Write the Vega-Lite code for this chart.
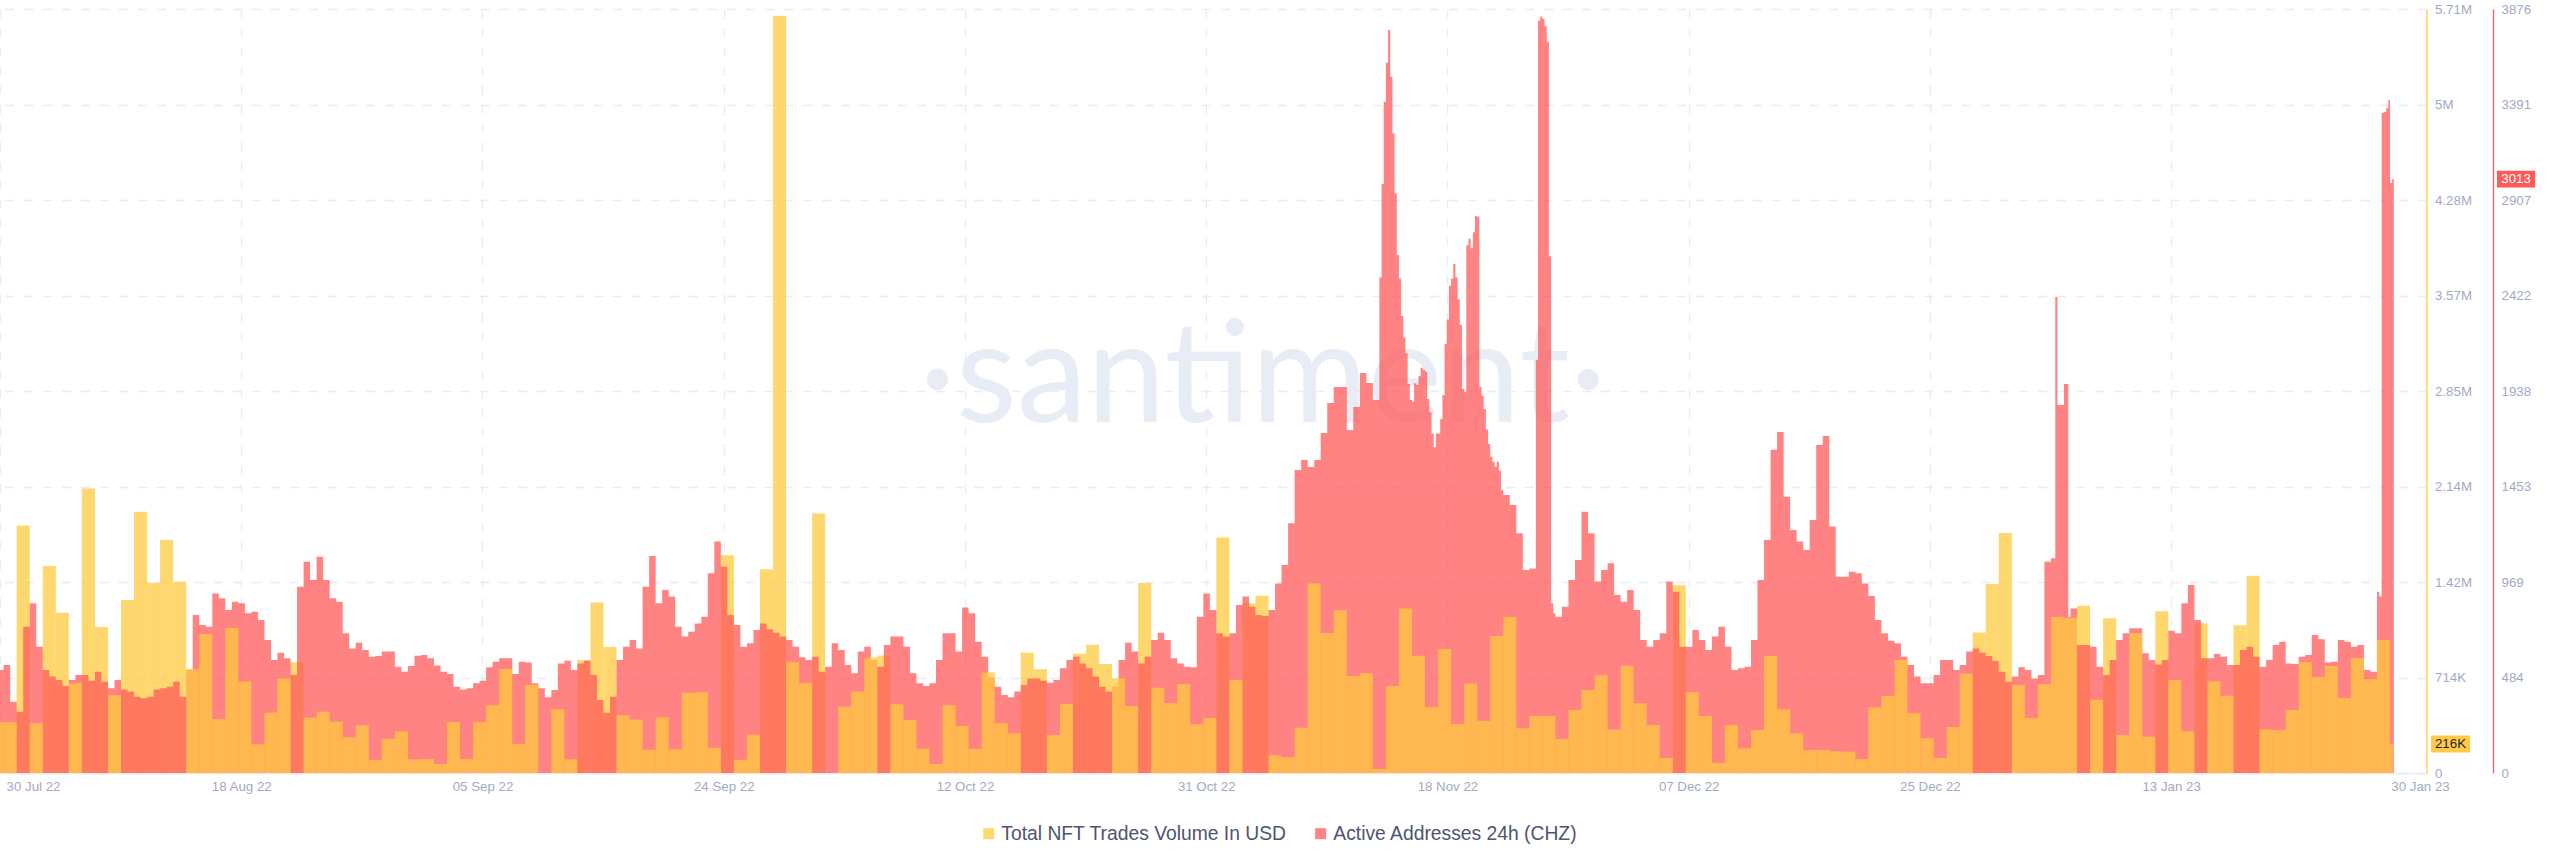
{"$schema":"https://vega.github.io/schema/vega-lite/v6.json","autosize":{"type":"none"},"width":2426.5,"height":764,"padding":{"left":0,"top":9,"right":133.5,"bottom":94},"background":"#ffffff","config":{"view":{"stroke":null},"font":"Liberation Sans"},
"datasets":{
"back":[
{"d":"2022-08-01T00:00","e":"2022-08-02T00:00","v":1850000},{"d":"2022-08-03T00:00","e":"2022-08-04T00:00","v":1547000},{"d":"2022-08-04T00:00","e":"2022-08-05T00:00","v":1198000},{"d":"2022-08-06T00:00","e":"2022-08-07T00:00","v":2127000},{"d":"2022-08-07T00:00","e":"2022-08-08T00:00","v":1091000},{"d":"2022-08-09T00:00","e":"2022-08-10T00:00","v":1293000},{"d":"2022-08-10T00:00","e":"2022-08-11T00:00","v":1953000},{"d":"2022-08-11T00:00","e":"2022-08-12T00:00","v":1422000},{"d":"2022-08-12T00:00","e":"2022-08-13T00:00","v":1741000},{"d":"2022-08-13T00:00","e":"2022-08-14T00:00","v":1430000},{"d":"2022-08-22T00:00","e":"2022-08-23T00:00","v":827000},{"d":"2022-09-13T00:00","e":"2022-09-14T00:00","v":844000},{"d":"2022-09-14T00:00","e":"2022-09-15T00:00","v":1275000},{"d":"2022-09-15T00:00","e":"2022-09-16T00:00","v":942000},{"d":"2022-09-24T00:00","e":"2022-09-25T00:00","v":1627000},{"d":"2022-09-27T00:00","e":"2022-09-28T00:00","v":1522000},{"d":"2022-09-28T00:00","e":"2022-09-29T00:00","v":5660000},{"d":"2022-10-01T00:00","e":"2022-10-02T00:00","v":1940000},{"d":"2022-10-06T00:00","e":"2022-10-07T00:00","v":879000},{"d":"2022-10-17T00:00","e":"2022-10-18T00:00","v":899000},{"d":"2022-10-18T00:00","e":"2022-10-19T00:00","v":775000},{"d":"2022-10-21T00:00","e":"2022-10-22T00:00","v":892000},{"d":"2022-10-22T00:00","e":"2022-10-23T00:00","v":959000},{"d":"2022-10-23T00:00","e":"2022-10-24T00:00","v":815000},{"d":"2022-10-26T00:00","e":"2022-10-27T00:00","v":1420000},{"d":"2022-11-01T00:00","e":"2022-11-02T00:00","v":1761000},{"d":"2022-11-03T00:00","e":"2022-11-04T00:00","v":1268000},{"d":"2022-11-04T00:00","e":"2022-11-05T00:00","v":1325000},{"d":"2022-12-06T00:00","e":"2022-12-07T00:00","v":1403000},{"d":"2022-12-29T00:00","e":"2022-12-30T00:00","v":1051000},{"d":"2022-12-30T00:00","e":"2022-12-31T00:00","v":1412000},{"d":"2022-12-31T00:00","e":"2023-01-01T00:00","v":1794000},{"d":"2023-01-06T00:00","e":"2023-01-07T00:00","v":1250000},{"d":"2023-01-08T00:00","e":"2023-01-09T00:00","v":1156000},{"d":"2023-01-12T00:00","e":"2023-01-13T00:00","v":1208000},{"d":"2023-01-15T00:00","e":"2023-01-16T00:00","v":1119000},{"d":"2023-01-18T00:00","e":"2023-01-19T00:00","v":1104000},{"d":"2023-01-19T00:00","e":"2023-01-20T00:00","v":1475000}],
"front":[
{"d":"2022-07-30T00:00","e":"2022-07-31T00:00","v":379000},{"d":"2022-07-31T00:00","e":"2022-08-01T00:00","v":379000},{"d":"2022-08-02T00:00","e":"2022-08-03T00:00","v":372000},{"d":"2022-08-05T00:00","e":"2022-08-06T00:00","v":670000},{"d":"2022-08-08T00:00","e":"2022-08-09T00:00","v":583000},{"d":"2022-08-14T00:00","e":"2022-08-15T00:00","v":777000},{"d":"2022-08-15T00:00","e":"2022-08-16T00:00","v":1039000},{"d":"2022-08-16T00:00","e":"2022-08-17T00:00","v":404000},{"d":"2022-08-17T00:00","e":"2022-08-18T00:00","v":1084000},{"d":"2022-08-18T00:00","e":"2022-08-19T00:00","v":683000},{"d":"2022-08-19T00:00","e":"2022-08-20T00:00","v":214000},{"d":"2022-08-20T00:00","e":"2022-08-21T00:00","v":451000},{"d":"2022-08-21T00:00","e":"2022-08-22T00:00","v":707000},{"d":"2022-08-23T00:00","e":"2022-08-24T00:00","v":414000},{"d":"2022-08-24T00:00","e":"2022-08-25T00:00","v":458000},{"d":"2022-08-25T00:00","e":"2022-08-26T00:00","v":384000},{"d":"2022-08-26T00:00","e":"2022-08-27T00:00","v":267000},{"d":"2022-08-27T00:00","e":"2022-08-28T00:00","v":356000},{"d":"2022-08-28T00:00","e":"2022-08-29T00:00","v":97000},{"d":"2022-08-29T00:00","e":"2022-08-30T00:00","v":254000},{"d":"2022-08-30T00:00","e":"2022-08-31T00:00","v":311000},{"d":"2022-08-31T00:00","e":"2022-09-01T00:00","v":102000},{"d":"2022-09-01T00:00","e":"2022-09-02T00:00","v":105000},{"d":"2022-09-02T00:00","e":"2022-09-03T00:00","v":67000},{"d":"2022-09-03T00:00","e":"2022-09-04T00:00","v":381000},{"d":"2022-09-04T00:00","e":"2022-09-05T00:00","v":105000},{"d":"2022-09-05T00:00","e":"2022-09-06T00:00","v":379000},{"d":"2022-09-06T00:00","e":"2022-09-07T00:00","v":506000},{"d":"2022-09-07T00:00","e":"2022-09-08T00:00","v":777000},{"d":"2022-09-08T00:00","e":"2022-09-09T00:00","v":217000},{"d":"2022-09-09T00:00","e":"2022-09-10T00:00","v":658000},{"d":"2022-09-10T00:00","e":"2022-09-11T00:00","v":0},{"d":"2022-09-11T00:00","e":"2022-09-12T00:00","v":476000},{"d":"2022-09-12T00:00","e":"2022-09-13T00:00","v":102000},{"d":"2022-09-16T00:00","e":"2022-09-17T00:00","v":431000},{"d":"2022-09-17T00:00","e":"2022-09-18T00:00","v":399000},{"d":"2022-09-18T00:00","e":"2022-09-19T00:00","v":174000},{"d":"2022-09-19T00:00","e":"2022-09-20T00:00","v":416000},{"d":"2022-09-20T00:00","e":"2022-09-21T00:00","v":177000},{"d":"2022-09-21T00:00","e":"2022-09-22T00:00","v":600000},{"d":"2022-09-22T00:00","e":"2022-09-23T00:00","v":605000},{"d":"2022-09-23T00:00","e":"2022-09-24T00:00","v":189000},{"d":"2022-09-25T00:00","e":"2022-09-26T00:00","v":97000},{"d":"2022-09-26T00:00","e":"2022-09-27T00:00","v":286000},{"d":"2022-09-29T00:00","e":"2022-09-30T00:00","v":827000},{"d":"2022-09-30T00:00","e":"2022-10-01T00:00","v":673000},{"d":"2022-10-02T00:00","e":"2022-10-03T00:00","v":0},{"d":"2022-10-03T00:00","e":"2022-10-04T00:00","v":496000},{"d":"2022-10-04T00:00","e":"2022-10-05T00:00","v":610000},{"d":"2022-10-05T00:00","e":"2022-10-06T00:00","v":864000},{"d":"2022-10-07T00:00","e":"2022-10-08T00:00","v":513000},{"d":"2022-10-08T00:00","e":"2022-10-09T00:00","v":396000},{"d":"2022-10-09T00:00","e":"2022-10-10T00:00","v":182000},{"d":"2022-10-10T00:00","e":"2022-10-11T00:00","v":67000},{"d":"2022-10-11T00:00","e":"2022-10-12T00:00","v":506000},{"d":"2022-10-12T00:00","e":"2022-10-13T00:00","v":351000},{"d":"2022-10-13T00:00","e":"2022-10-14T00:00","v":179000},{"d":"2022-10-14T00:00","e":"2022-10-15T00:00","v":752000},{"d":"2022-10-15T00:00","e":"2022-10-16T00:00","v":374000},{"d":"2022-10-16T00:00","e":"2022-10-17T00:00","v":296000},{"d":"2022-10-19T00:00","e":"2022-10-20T00:00","v":284000},{"d":"2022-10-20T00:00","e":"2022-10-21T00:00","v":516000},{"d":"2022-10-24T00:00","e":"2022-10-25T00:00","v":707000},{"d":"2022-10-25T00:00","e":"2022-10-26T00:00","v":501000},{"d":"2022-10-27T00:00","e":"2022-10-28T00:00","v":638000},{"d":"2022-10-28T00:00","e":"2022-10-29T00:00","v":523000},{"d":"2022-10-29T00:00","e":"2022-10-30T00:00","v":663000},{"d":"2022-10-30T00:00","e":"2022-10-31T00:00","v":364000},{"d":"2022-10-31T00:00","e":"2022-11-01T00:00","v":411000},{"d":"2022-11-02T00:00","e":"2022-11-03T00:00","v":695000},{"d":"2022-11-05T00:00","e":"2022-11-06T00:00","v":132000},{"d":"2022-11-06T00:00","e":"2022-11-07T00:00","v":117000},{"d":"2022-11-07T00:00","e":"2022-11-08T00:00","v":339000},{"d":"2022-11-08T00:00","e":"2022-11-09T00:00","v":1417000},{"d":"2022-11-09T00:00","e":"2022-11-10T00:00","v":1046000},{"d":"2022-11-10T00:00","e":"2022-11-11T00:00","v":1216000},{"d":"2022-11-11T00:00","e":"2022-11-12T00:00","v":725000},{"d":"2022-11-12T00:00","e":"2022-11-13T00:00","v":745000},{"d":"2022-11-13T00:00","e":"2022-11-14T00:00","v":30000},{"d":"2022-11-14T00:00","e":"2022-11-15T00:00","v":650000},{"d":"2022-11-15T00:00","e":"2022-11-16T00:00","v":1230000},{"d":"2022-11-16T00:00","e":"2022-11-17T00:00","v":877000},{"d":"2022-11-17T00:00","e":"2022-11-18T00:00","v":493000},{"d":"2022-11-18T00:00","e":"2022-11-19T00:00","v":927000},{"d":"2022-11-19T00:00","e":"2022-11-20T00:00","v":366000},{"d":"2022-11-20T00:00","e":"2022-11-21T00:00","v":668000},{"d":"2022-11-21T00:00","e":"2022-11-22T00:00","v":389000},{"d":"2022-11-22T00:00","e":"2022-11-23T00:00","v":1024000},{"d":"2022-11-23T00:00","e":"2022-11-24T00:00","v":1166000},{"d":"2022-11-24T00:00","e":"2022-11-25T00:00","v":334000},{"d":"2022-11-25T00:00","e":"2022-11-26T00:00","v":426000},{"d":"2022-11-26T00:00","e":"2022-11-27T00:00","v":426000},{"d":"2022-11-27T00:00","e":"2022-11-28T00:00","v":254000},{"d":"2022-11-28T00:00","e":"2022-11-29T00:00","v":471000},{"d":"2022-11-29T00:00","e":"2022-11-30T00:00","v":620000},{"d":"2022-11-30T00:00","e":"2022-12-01T00:00","v":730000},{"d":"2022-12-01T00:00","e":"2022-12-02T00:00","v":326000},{"d":"2022-12-02T00:00","e":"2022-12-03T00:00","v":802000},{"d":"2022-12-03T00:00","e":"2022-12-04T00:00","v":521000},{"d":"2022-12-04T00:00","e":"2022-12-05T00:00","v":359000},{"d":"2022-12-05T00:00","e":"2022-12-06T00:00","v":112000},{"d":"2022-12-07T00:00","e":"2022-12-08T00:00","v":603000},{"d":"2022-12-08T00:00","e":"2022-12-09T00:00","v":426000},{"d":"2022-12-09T00:00","e":"2022-12-10T00:00","v":75000},{"d":"2022-12-10T00:00","e":"2022-12-11T00:00","v":359000},{"d":"2022-12-11T00:00","e":"2022-12-12T00:00","v":184000},{"d":"2022-12-12T00:00","e":"2022-12-13T00:00","v":321000},{"d":"2022-12-13T00:00","e":"2022-12-14T00:00","v":874000},{"d":"2022-12-14T00:00","e":"2022-12-15T00:00","v":476000},{"d":"2022-12-15T00:00","e":"2022-12-16T00:00","v":296000},{"d":"2022-12-16T00:00","e":"2022-12-17T00:00","v":172000},{"d":"2022-12-17T00:00","e":"2022-12-18T00:00","v":172000},{"d":"2022-12-18T00:00","e":"2022-12-19T00:00","v":162000},{"d":"2022-12-19T00:00","e":"2022-12-20T00:00","v":159000},{"d":"2022-12-20T00:00","e":"2022-12-21T00:00","v":105000},{"d":"2022-12-21T00:00","e":"2022-12-22T00:00","v":491000},{"d":"2022-12-22T00:00","e":"2022-12-23T00:00","v":575000},{"d":"2022-12-23T00:00","e":"2022-12-24T00:00","v":844000},{"d":"2022-12-24T00:00","e":"2022-12-25T00:00","v":446000},{"d":"2022-12-25T00:00","e":"2022-12-26T00:00","v":259000},{"d":"2022-12-26T00:00","e":"2022-12-27T00:00","v":112000},{"d":"2022-12-27T00:00","e":"2022-12-28T00:00","v":344000},{"d":"2022-12-28T00:00","e":"2022-12-29T00:00","v":742000},{"d":"2023-01-01T00:00","e":"2023-01-02T00:00","v":658000},{"d":"2023-01-02T00:00","e":"2023-01-03T00:00","v":411000},{"d":"2023-01-03T00:00","e":"2023-01-04T00:00","v":663000},{"d":"2023-01-04T00:00","e":"2023-01-05T00:00","v":1166000},{"d":"2023-01-05T00:00","e":"2023-01-06T00:00","v":1161000},{"d":"2023-01-07T00:00","e":"2023-01-08T00:00","v":548000},{"d":"2023-01-09T00:00","e":"2023-01-10T00:00","v":284000},{"d":"2023-01-10T00:00","e":"2023-01-11T00:00","v":1046000},{"d":"2023-01-11T00:00","e":"2023-01-12T00:00","v":272000},{"d":"2023-01-13T00:00","e":"2023-01-14T00:00","v":695000},{"d":"2023-01-14T00:00","e":"2023-01-15T00:00","v":311000},{"d":"2023-01-16T00:00","e":"2023-01-17T00:00","v":685000},{"d":"2023-01-17T00:00","e":"2023-01-18T00:00","v":578000},{"d":"2023-01-20T00:00","e":"2023-01-21T00:00","v":326000},{"d":"2023-01-21T00:00","e":"2023-01-22T00:00","v":321000},{"d":"2023-01-22T00:00","e":"2023-01-23T00:00","v":471000},{"d":"2023-01-23T00:00","e":"2023-01-24T00:00","v":830000},{"d":"2023-01-24T00:00","e":"2023-01-25T00:00","v":717000},{"d":"2023-01-25T00:00","e":"2023-01-26T00:00","v":800000},{"d":"2023-01-26T00:00","e":"2023-01-27T00:00","v":560000},{"d":"2023-01-27T00:00","e":"2023-01-28T00:00","v":859000},{"d":"2023-01-28T00:00","e":"2023-01-29T00:00","v":702000},{"d":"2023-01-29T00:00","e":"2023-01-30T00:00","v":994000},{"d":"2023-01-30T00:00","e":"2023-01-30T05:16","v":216000}],
"active":[
{"t":"2022-07-30T12:00","a":523},{"t":"2022-07-31T00:00","a":548},{"t":"2022-07-31T12:00","a":362},{"t":"2022-08-01T00:00","a":311},{"t":"2022-08-01T12:00","a":742},{"t":"2022-08-02T00:00","a":861},{"t":"2022-08-02T12:00","a":641},{"t":"2022-08-03T00:00","a":523},{"t":"2022-08-03T12:00","a":489},{"t":"2022-08-04T00:00","a":472},{"t":"2022-08-04T12:00","a":441},{"t":"2022-08-05T00:00","a":472},{"t":"2022-08-05T12:00","a":497},{"t":"2022-08-06T00:00","a":497},{"t":"2022-08-06T12:00","a":468},{"t":"2022-08-07T00:00","a":514},{"t":"2022-08-07T12:00","a":463},{"t":"2022-08-08T00:00","a":430},{"t":"2022-08-08T12:00","a":472},{"t":"2022-08-09T00:00","a":424},{"t":"2022-08-09T12:00","a":413},{"t":"2022-08-10T00:00","a":387},{"t":"2022-08-10T12:00","a":379},{"t":"2022-08-11T00:00","a":387},{"t":"2022-08-11T12:00","a":424},{"t":"2022-08-12T00:00","a":430},{"t":"2022-08-12T12:00","a":438},{"t":"2022-08-13T00:00","a":463},{"t":"2022-08-13T12:00","a":387},{"t":"2022-08-14T00:00","a":523},{"t":"2022-08-14T12:00","a":802},{"t":"2022-08-15T00:00","a":751},{"t":"2022-08-15T12:00","a":742},{"t":"2022-08-16T00:00","a":911},{"t":"2022-08-16T12:00","a":886},{"t":"2022-08-17T00:00","a":827},{"t":"2022-08-17T12:00","a":869},{"t":"2022-08-18T00:00","a":861},{"t":"2022-08-18T12:00","a":810},{"t":"2022-08-19T00:00","a":818},{"t":"2022-08-19T12:00","a":776},{"t":"2022-08-20T00:00","a":675},{"t":"2022-08-20T12:00","a":573},{"t":"2022-08-21T00:00","a":610},{"t":"2022-08-21T12:00","a":582},{"t":"2022-08-22T00:00","a":497},{"t":"2022-08-22T12:00","a":945},{"t":"2022-08-23T00:00","a":1072},{"t":"2022-08-23T12:00","a":979},{"t":"2022-08-24T00:00","a":1097},{"t":"2022-08-24T12:00","a":979},{"t":"2022-08-25T00:00","a":886},{"t":"2022-08-25T12:00","a":869},{"t":"2022-08-26T00:00","a":709},{"t":"2022-08-26T12:00","a":632},{"t":"2022-08-27T00:00","a":661},{"t":"2022-08-27T12:00","a":624},{"t":"2022-08-28T00:00","a":590},{"t":"2022-08-28T12:00","a":594},{"t":"2022-08-29T00:00","a":616},{"t":"2022-08-29T12:00","a":616},{"t":"2022-08-30T00:00","a":539},{"t":"2022-08-30T12:00","a":514},{"t":"2022-08-31T00:00","a":543},{"t":"2022-08-31T12:00","a":595},{"t":"2022-09-01T00:00","a":599},{"t":"2022-09-01T12:00","a":582},{"t":"2022-09-02T00:00","a":545},{"t":"2022-09-02T12:00","a":514},{"t":"2022-09-03T00:00","a":502},{"t":"2022-09-03T12:00","a":438},{"t":"2022-09-04T00:00","a":424},{"t":"2022-09-04T12:00","a":430},{"t":"2022-09-05T00:00","a":455},
{"t":"2022-09-05T12:00","a":468},{"t":"2022-09-06T00:00","a":536},{"t":"2022-09-06T12:00","a":565},{"t":"2022-09-07T00:00","a":582},{"t":"2022-09-07T12:00","a":582},{"t":"2022-09-08T00:00","a":502},{"t":"2022-09-08T12:00","a":565},{"t":"2022-09-09T00:00","a":560},{"t":"2022-09-09T12:00","a":455},{"t":"2022-09-10T00:00","a":430},{"t":"2022-09-10T12:00","a":384},{"t":"2022-09-11T00:00","a":421},{"t":"2022-09-11T12:00","a":556},{"t":"2022-09-12T00:00","a":570},{"t":"2022-09-12T12:00","a":523},{"t":"2022-09-13T00:00","a":556},{"t":"2022-09-13T12:00","a":570},{"t":"2022-09-14T00:00","a":497},{"t":"2022-09-14T12:00","a":370},{"t":"2022-09-15T00:00","a":306},{"t":"2022-09-15T12:00","a":387},{"t":"2022-09-16T00:00","a":573},{"t":"2022-09-16T12:00","a":641},{"t":"2022-09-17T00:00","a":675},{"t":"2022-09-17T12:00","a":632},{"t":"2022-09-18T00:00","a":945},{"t":"2022-09-18T12:00","a":1101},{"t":"2022-09-19T00:00","a":861},{"t":"2022-09-19T12:00","a":928},{"t":"2022-09-20T00:00","a":895},{"t":"2022-09-20T12:00","a":742},{"t":"2022-09-21T00:00","a":692},{"t":"2022-09-21T12:00","a":717},{"t":"2022-09-22T00:00","a":759},{"t":"2022-09-22T12:00","a":793},{"t":"2022-09-23T00:00","a":1013},{"t":"2022-09-23T12:00","a":1174},{"t":"2022-09-24T00:00","a":1047},{"t":"2022-09-24T12:00","a":802},{"t":"2022-09-25T00:00","a":751},{"t":"2022-09-25T12:00","a":641},{"t":"2022-09-26T00:00","a":658},{"t":"2022-09-26T12:00","a":725},{"t":"2022-09-27T00:00","a":759},{"t":"2022-09-27T12:00","a":729},{"t":"2022-09-28T00:00","a":712},{"t":"2022-09-28T12:00","a":692},{"t":"2022-09-29T00:00","a":675},{"t":"2022-09-29T12:00","a":641},{"t":"2022-09-30T00:00","a":587},{"t":"2022-09-30T12:00","a":573},{"t":"2022-10-01T00:00","a":590},{"t":"2022-10-01T12:00","a":514},{"t":"2022-10-02T00:00","a":539},{"t":"2022-10-02T12:00","a":658},{"t":"2022-10-03T00:00","a":624},{"t":"2022-10-03T12:00","a":548},{"t":"2022-10-04T00:00","a":506},{"t":"2022-10-04T12:00","a":616},{"t":"2022-10-05T00:00","a":641},{"t":"2022-10-05T12:00","a":573},{"t":"2022-10-06T00:00","a":539},{"t":"2022-10-06T12:00","a":649},{"t":"2022-10-07T00:00","a":692},{"t":"2022-10-07T12:00","a":692},{"t":"2022-10-08T00:00","a":641},{"t":"2022-10-08T12:00","a":506},{"t":"2022-10-09T00:00","a":455},{"t":"2022-10-09T12:00","a":441},{"t":"2022-10-10T00:00","a":455},{"t":"2022-10-10T12:00","a":573},{"t":"2022-10-11T00:00","a":709},{"t":"2022-10-11T12:00","a":709},{"t":"2022-10-12T00:00","a":616},
{"t":"2022-10-12T12:00","a":840},{"t":"2022-10-13T00:00","a":810},{"t":"2022-10-13T12:00","a":666},{"t":"2022-10-14T00:00","a":590},{"t":"2022-10-14T12:00","a":485},{"t":"2022-10-15T00:00","a":438},{"t":"2022-10-15T12:00","a":396},{"t":"2022-10-16T00:00","a":384},{"t":"2022-10-16T12:00","a":413},{"t":"2022-10-17T00:00","a":446},{"t":"2022-10-17T12:00","a":480},{"t":"2022-10-18T00:00","a":480},{"t":"2022-10-18T12:00","a":468},{"t":"2022-10-19T00:00","a":458},{"t":"2022-10-19T12:00","a":472},{"t":"2022-10-20T00:00","a":531},{"t":"2022-10-20T12:00","a":573},{"t":"2022-10-21T00:00","a":590},{"t":"2022-10-21T12:00","a":556},{"t":"2022-10-22T00:00","a":531},{"t":"2022-10-22T12:00","a":489},{"t":"2022-10-23T00:00","a":438},{"t":"2022-10-23T12:00","a":413},{"t":"2022-10-24T00:00","a":438},{"t":"2022-10-24T12:00","a":573},{"t":"2022-10-25T00:00","a":661},{"t":"2022-10-25T12:00","a":616},{"t":"2022-10-26T00:00","a":556},{"t":"2022-10-26T12:00","a":590},{"t":"2022-10-27T00:00","a":675},{"t":"2022-10-27T12:00","a":712},{"t":"2022-10-28T00:00","a":675},{"t":"2022-10-28T12:00","a":582},{"t":"2022-10-29T00:00","a":556},{"t":"2022-10-29T12:00","a":539},{"t":"2022-10-30T00:00","a":536},{"t":"2022-10-30T12:00","a":793},{"t":"2022-10-31T00:00","a":911},{"t":"2022-10-31T12:00","a":827},{"t":"2022-11-01T00:00","a":709},{"t":"2022-11-01T12:00","a":692},{"t":"2022-11-02T00:00","a":709},{"t":"2022-11-02T12:00","a":852},{"t":"2022-11-03T00:00","a":895},{"t":"2022-11-03T12:00","a":844},{"t":"2022-11-04T00:00","a":802},{"t":"2022-11-04T12:00","a":796},{"t":"2022-11-05T00:00","a":827},{"t":"2022-11-05T12:00","a":962},{"t":"2022-11-06T00:00","a":1055},{"t":"2022-11-06T12:00","a":1267},
{"t":"2022-11-07T00:00","a":1537},{"t":"2022-11-07T12:00","a":1588},{"t":"2022-11-08T00:00","a":1552},{"t":"2022-11-08T12:00","a":1588},{"t":"2022-11-09T00:00","a":1725},{"t":"2022-11-09T12:00","a":1877},{"t":"2022-11-10T00:00","a":1958},{"t":"2022-11-10T12:00","a":1958},{"t":"2022-11-11T00:00","a":1740},{"t":"2022-11-11T12:00","a":1857},{"t":"2022-11-12T00:00","a":2029},{"t":"2022-11-12T12:00","a":1979},{"t":"2022-11-13T00:00","a":1892},
{"t":"2022-11-13T12:00","a":2514},{"t":"2022-11-13T16:00","a":2988},{"t":"2022-11-13T20:00","a":3406},{"t":"2022-11-14T00:00","a":3603},{"t":"2022-11-14T04:00","a":3769},{"t":"2022-11-14T08:00","a":3532},{"t":"2022-11-14T12:00","a":3245},{"t":"2022-11-14T16:00","a":2941},{"t":"2022-11-14T20:00","a":2628},{"t":"2022-11-15T00:00","a":2509},{"t":"2022-11-15T04:00","a":2318},{"t":"2022-11-15T08:00","a":2210},{"t":"2022-11-15T12:00","a":2129},{"t":"2022-11-15T16:00","a":1973},{"t":"2022-11-15T20:00","a":1892},{"t":"2022-11-16T00:00","a":1884},{"t":"2022-11-16T04:00","a":1977},{"t":"2022-11-16T08:00","a":1968},{"t":"2022-11-16T12:00","a":2014},{"t":"2022-11-16T16:00","a":2056},{"t":"2022-11-16T20:00","a":2044},{"t":"2022-11-17T00:00","a":2036},{"t":"2022-11-17T04:00","a":1897},{"t":"2022-11-17T08:00","a":1830},{"t":"2022-11-17T12:00","a":1723},{"t":"2022-11-17T16:00","a":1652},{"t":"2022-11-17T20:00","a":1723},{"t":"2022-11-18T00:00","a":1723},{"t":"2022-11-18T04:00","a":1796},{"t":"2022-11-18T08:00","a":1918},{"t":"2022-11-18T12:00","a":2176},{"t":"2022-11-18T16:00","a":2301},{"t":"2022-11-18T20:00","a":2472},{"t":"2022-11-19T00:00","a":2509},{"t":"2022-11-19T04:00","a":2582},{"t":"2022-11-19T08:00","a":2514},{"t":"2022-11-19T12:00","a":2403},{"t":"2022-11-19T16:00","a":2273},{"t":"2022-11-19T20:00","a":1948},{"t":"2022-11-20T00:00","a":1934},{"t":"2022-11-20T04:00","a":2678},{"t":"2022-11-20T08:00","a":2711},{"t":"2022-11-20T12:00","a":2662},{"t":"2022-11-20T16:00","a":2743},{"t":"2022-11-20T20:00","a":2826},{"t":"2022-11-21T00:00","a":2822},{"t":"2022-11-21T04:00","a":1960},{"t":"2022-11-21T08:00","a":1914},{"t":"2022-11-21T12:00","a":1847},{"t":"2022-11-21T16:00","a":1743},{"t":"2022-11-21T20:00","a":1669},{"t":"2022-11-22T00:00","a":1605},{"t":"2022-11-22T04:00","a":1579},{"t":"2022-11-22T08:00","a":1554},{"t":"2022-11-22T12:00","a":1579},{"t":"2022-11-22T16:00","a":1534},
{"t":"2022-11-22T20:00","a":1436},{"t":"2022-11-23T00:00","a":1410},{"t":"2022-11-23T12:00","a":1360},{"t":"2022-11-24T00:00","a":1216},{"t":"2022-11-24T12:00","a":1030},{"t":"2022-11-25T00:00","a":1038},{"t":"2022-11-25T12:00","a":2095},{"t":"2022-11-25T16:00","a":3816},{"t":"2022-11-25T20:00","a":3837},{"t":"2022-11-26T00:00","a":3825},{"t":"2022-11-26T04:00","a":3789},{"t":"2022-11-26T08:00","a":3710},{"t":"2022-11-26T12:00","a":2622},{"t":"2022-11-26T16:00","a":861},{"t":"2022-11-26T20:00","a":810},{"t":"2022-11-27T00:00","a":793},{"t":"2022-11-27T12:00","a":844},{"t":"2022-11-28T00:00","a":979},{"t":"2022-11-28T12:00","a":1080},{"t":"2022-11-29T00:00","a":1326},{"t":"2022-11-29T12:00","a":1216},{"t":"2022-11-30T00:00","a":971},{"t":"2022-11-30T12:00","a":1030},{"t":"2022-12-01T00:00","a":1064},{"t":"2022-12-01T12:00","a":903},{"t":"2022-12-02T00:00","a":869},{"t":"2022-12-02T12:00","a":928},{"t":"2022-12-03T00:00","a":827},{"t":"2022-12-03T12:00","a":675},{"t":"2022-12-04T00:00","a":641},{"t":"2022-12-04T12:00","a":675},{"t":"2022-12-05T00:00","a":709},{"t":"2022-12-05T12:00","a":971},{"t":"2022-12-06T00:00","a":920},{"t":"2022-12-06T12:00","a":641},{"t":"2022-12-07T00:00","a":641},{"t":"2022-12-07T12:00","a":725},{"t":"2022-12-08T00:00","a":675},{"t":"2022-12-08T12:00","a":624},{"t":"2022-12-09T00:00","a":692},{"t":"2022-12-09T12:00","a":742},{"t":"2022-12-10T00:00","a":641},{"t":"2022-12-10T12:00","a":523},{"t":"2022-12-11T00:00","a":531},{"t":"2022-12-11T12:00","a":539},{"t":"2022-12-12T00:00","a":675},{"t":"2022-12-12T12:00","a":979},{"t":"2022-12-13T00:00","a":1182},{"t":"2022-12-13T12:00","a":1640},{"t":"2022-12-14T00:00","a":1730},{"t":"2022-12-14T12:00","a":1402},{"t":"2022-12-15T00:00","a":1233},{"t":"2022-12-15T12:00","a":1174},{"t":"2022-12-16T00:00","a":1131},{"t":"2022-12-16T12:00","a":1283},{"t":"2022-12-17T00:00","a":1664},{"t":"2022-12-17T12:00","a":1710},{"t":"2022-12-18T00:00","a":1250},{"t":"2022-12-18T12:00","a":996},{"t":"2022-12-19T00:00","a":996},{"t":"2022-12-19T12:00","a":1021},{"t":"2022-12-20T00:00","a":1013},{"t":"2022-12-20T12:00","a":962},{"t":"2022-12-21T00:00","a":898},{"t":"2022-12-21T12:00","a":776},{"t":"2022-12-22T00:00","a":709},{"t":"2022-12-22T12:00","a":671},{"t":"2022-12-23T00:00","a":658},{"t":"2022-12-23T12:00","a":590},{"t":"2022-12-24T00:00","a":548},{"t":"2022-12-24T12:00","a":489},
{"t":"2022-12-25T00:00","a":455},{"t":"2022-12-25T12:00","a":455},{"t":"2022-12-26T00:00","a":497},{"t":"2022-12-26T12:00","a":573},{"t":"2022-12-27T00:00","a":573},{"t":"2022-12-27T12:00","a":523},{"t":"2022-12-28T00:00","a":548},{"t":"2022-12-28T12:00","a":616},{"t":"2022-12-29T00:00","a":632},{"t":"2022-12-29T12:00","a":610},{"t":"2022-12-30T00:00","a":594},{"t":"2022-12-30T12:00","a":570},{"t":"2022-12-31T00:00","a":514},{"t":"2022-12-31T12:00","a":463},{"t":"2023-01-01T00:00","a":489},{"t":"2023-01-01T12:00","a":536},{"t":"2023-01-02T00:00","a":523},{"t":"2023-01-02T12:00","a":480},{"t":"2023-01-03T00:00","a":497},{"t":"2023-01-03T12:00","a":1072},{"t":"2023-01-04T00:00","a":1089},{"t":"2023-01-04T08:00","a":2415},{"t":"2023-01-04T12:00","a":1867},{"t":"2023-01-05T00:00","a":1973},{"t":"2023-01-05T08:00","a":793},{"t":"2023-01-05T12:00","a":835},{"t":"2023-01-06T00:00","a":649},{"t":"2023-01-06T12:00","a":649},{"t":"2023-01-07T00:00","a":641},{"t":"2023-01-07T12:00","a":539},{"t":"2023-01-08T00:00","a":497},{"t":"2023-01-08T12:00","a":573},{"t":"2023-01-09T00:00","a":675},{"t":"2023-01-09T12:00","a":709},{"t":"2023-01-10T00:00","a":734},{"t":"2023-01-10T12:00","a":734},{"t":"2023-01-11T00:00","a":607},{"t":"2023-01-11T12:00","a":573},{"t":"2023-01-12T00:00","a":551},{"t":"2023-01-12T12:00","a":573},{"t":"2023-01-13T00:00","a":722},{"t":"2023-01-13T12:00","a":709},{"t":"2023-01-14T00:00","a":861},{"t":"2023-01-14T12:00","a":954},{"t":"2023-01-15T00:00","a":776},{"t":"2023-01-15T12:00","a":582},{"t":"2023-01-16T00:00","a":582},{"t":"2023-01-16T12:00","a":604},{"t":"2023-01-17T00:00","a":590},{"t":"2023-01-17T12:00","a":548},{"t":"2023-01-18T00:00","a":548},{"t":"2023-01-18T12:00","a":624},{"t":"2023-01-19T00:00","a":641},{"t":"2023-01-19T12:00","a":590},{"t":"2023-01-20T00:00","a":539},{"t":"2023-01-20T12:00","a":573},{"t":"2023-01-21T00:00","a":649},{"t":"2023-01-21T12:00","a":666},{"t":"2023-01-22T00:00","a":556},{"t":"2023-01-22T12:00","a":553},{"t":"2023-01-23T00:00","a":590},{"t":"2023-01-23T12:00","a":599},{"t":"2023-01-24T00:00","a":700},{"t":"2023-01-24T12:00","a":678},{"t":"2023-01-25T00:00","a":560},{"t":"2023-01-25T12:00","a":565},{"t":"2023-01-26T00:00","a":675},{"t":"2023-01-26T12:00","a":666},{"t":"2023-01-27T00:00","a":641},{"t":"2023-01-27T12:00","a":649},{"t":"2023-01-28T00:00","a":523},{"t":"2023-01-28T12:00","a":514},{"t":"2023-01-29T00:00","a":920},{"t":"2023-01-29T04:00","a":895},{"t":"2023-01-29T08:40","a":3348},{"t":"2023-01-29T13:00","a":3353},{"t":"2023-01-29T17:00","a":3374},{"t":"2023-01-29T21:00","a":3414},{"t":"2023-01-30T00:00","a":2993},{"t":"2023-01-30T04:00","a":3013},{"t":"2023-01-30T07:00","a":3013}]
},
"layer":[
{"data":{"values":[{"t":"2022-11-04T13:40","a":1781,"label":"·santiment·"}]},
 "mark":{"type":"text","font":"Lato","fontSize":141,"baseline":"alphabetic","align":"center","color":"#e8ecf5"},
 "encoding":{"x":{"field":"t","type":"temporal","scale":{"nice":false,"domain":[{"year":2022,"month":"jul","date":30,"hours":17,"minutes":17},{"year":2023,"month":"feb","date":1,"hours":19,"minutes":12}]},"title":null,
   "axis":{"title":null,"grid":true,"gridColor":"#e9ecf5","gridWidth":1.3,"gridDash":[9,10],"gridOpacity":{"condition":{"test":"datum.value>datetime(2023,0,20)","value":0},"value":1},"ticks":false,"domain":true,"domainColor":"#e6e9f2","domainWidth":1.3,"labelColor":"#9faac4","labelFontSize":13.3,"labelPadding":6,"labelFont":"Liberation Sans",
     "values":[{"year":2022,"month":"jul","date":30,"hours":17,"minutes":17},{"year":2022,"month":"aug","date":18,"hours":5,"minutes":17},{"year":2022,"month":"sep","date":5,"hours":17,"minutes":17},{"year":2022,"month":"sep","date":24,"hours":5,"minutes":17},{"year":2022,"month":"oct","date":12,"hours":17,"minutes":17},{"year":2022,"month":"oct","date":31,"hours":5,"minutes":17},{"year":2022,"month":"nov","date":18,"hours":17,"minutes":17},{"year":2022,"month":"dec","date":7,"hours":5,"minutes":17},{"year":2022,"month":"dec","date":25,"hours":17,"minutes":17},{"year":2023,"month":"jan","date":13,"hours":5,"minutes":17},{"year":2023,"month":"feb","date":1,"hours":7,"minutes":12}],
     "labelExpr":"datum.value>datetime(2023,0,20)?'30 Jan 23':timeFormat(datum.value,'%d %b %y')",
     "labelOverlap":false,"labelBound":false,"labelFlush":false,
     "labelOffset":{"condition":{"test":"datum.value<datetime(2022,6,31)","value":33},"value":0}}},
  "y":{"field":"a","type":"quantitative","scale":{"domain":[0,3876],"nice":false},"axis":null},
  "text":{"field":"label"}}},
{"data":{"name":"back"},
 "mark":{"type":"bar","opacity":0.75,"clip":true},
 "encoding":{"x":{"field":"d","type":"temporal"},"x2":{"field":"e"},
  "y":{"field":"v","type":"quantitative","scale":{"domain":[0,5710000],"nice":false,"padding":0},
   "axis":{"orient":"right","title":null,"grid":true,"gridColor":"#e9ecf5","gridWidth":1.3,"gridDash":[9,10],"ticks":false,"domain":true,"domainColor":"#ffcb47","domainWidth":1.3,"labelColor":"#9faac4","labelFontSize":13.3,"labelPadding":8,"labelFont":"Liberation Sans","labelBound":false,"labelOverlap":false,
    "values":[0,713750,1427500,2141250,2855000,3568750,4282500,4996250,5710000],
    "labelExpr":"['0','714K','1.42M','2.14M','2.85M','3.57M','4.28M','5M','5.71M'][round(datum.value/713750)]"}},
  "y2":{"datum":0},
  "color":{"datum":"Total NFT Trades Volume In USD","type":"nominal","scale":{"domain":["Total NFT Trades Volume In USD","Active Addresses 24h (CHZ)"],"range":["#ffc93f","#ff5a5a"]},
   "legend":{"orient":"none","legendX":979,"legendY":815,"direction":"horizontal","title":null,"symbolType":"square","symbolSize":121,"symbolOpacity":1,"symbolStrokeWidth":0,"labelFontSize":19.3,"labelFont":"Liberation Sans","labelColor":"#4d5570","labelOffset":3,"columnPadding":24,"labelLimit":400}}}},
{"data":{"name":"active"},
 "mark":{"type":"area","interpolate":"step-after","opacity":0.75,"clip":true},
 "encoding":{"x":{"field":"t","type":"temporal"},
  "y":{"field":"a","type":"quantitative","scale":{"domain":[0,3876],"nice":false},
   "axis":{"orient":"right","offset":66.5,"title":null,"grid":false,"ticks":false,"domain":true,"domainColor":"#ff5a5a","domainWidth":1.3,"labelColor":"#9faac4","labelFontSize":13.3,"labelPadding":8,"labelFont":"Liberation Sans","labelBound":false,"labelOverlap":false,
    "values":[0,484.5,969,1453.5,1938,2422.5,2907,3391.5,3876],"labelExpr":"floor(datum.value)"}},
  "color":{"datum":"Active Addresses 24h (CHZ)","type":"nominal"}}},
{"data":{"name":"front"},
 "mark":{"type":"bar","opacity":0.75,"clip":true},
 "encoding":{"x":{"field":"d","type":"temporal"},"x2":{"field":"e"},
  "y":{"field":"v","type":"quantitative","scale":{"domain":[0,5710000],"nice":false,"padding":0},"axis":null},
  "y2":{"datum":0},
  "color":{"datum":"Total NFT Trades Volume In USD","type":"nominal"}}},
{"data":{"values":[{"t0":"2023-02-02T03:36","t1":"2023-02-05T03:22","y0":152500,"y1":279500}]},
 "mark":{"type":"rect","color":"#ffcb47"},
 "encoding":{"x":{"field":"t0","type":"temporal"},"x2":{"field":"t1"},
  "y":{"field":"y0","type":"quantitative","scale":{"domain":[0,5710000],"nice":false},"axis":null},"y2":{"field":"y1"}}},
{"data":{"values":[{"t":"2023-02-03T15:20","v":216000,"label":"216K"}]},
 "mark":{"type":"text","color":"#1a1c30","fontSize":13.3,"font":"Liberation Sans","align":"center","baseline":"middle"},
 "encoding":{"x":{"field":"t","type":"temporal"},
  "y":{"field":"v","type":"quantitative","scale":{"domain":[0,5710000],"nice":false},"axis":null},"text":{"field":"label"}}},
{"data":{"values":[{"t0":"2023-02-07T05:00","t1":"2023-02-10T03:00","y0":2970,"y1":3056}]},
 "mark":{"type":"rect","color":"#ff5a5a"},
 "encoding":{"x":{"field":"t0","type":"temporal"},"x2":{"field":"t1"},
  "y":{"field":"y0","type":"quantitative","scale":{"domain":[0,3876],"nice":false},"axis":null},"y2":{"field":"y1"}}},
{"data":{"values":[{"t":"2023-02-08T16:00","a":3013,"label":"3013"}]},
 "mark":{"type":"text","color":"#ffffff","fontSize":13.3,"font":"Liberation Sans","align":"center","baseline":"middle"},
 "encoding":{"x":{"field":"t","type":"temporal"},
  "y":{"field":"a","type":"quantitative","scale":{"domain":[0,3876],"nice":false},"axis":null},"text":{"field":"label"}}}
],
"resolve":{"scale":{"y":"independent"}}}
